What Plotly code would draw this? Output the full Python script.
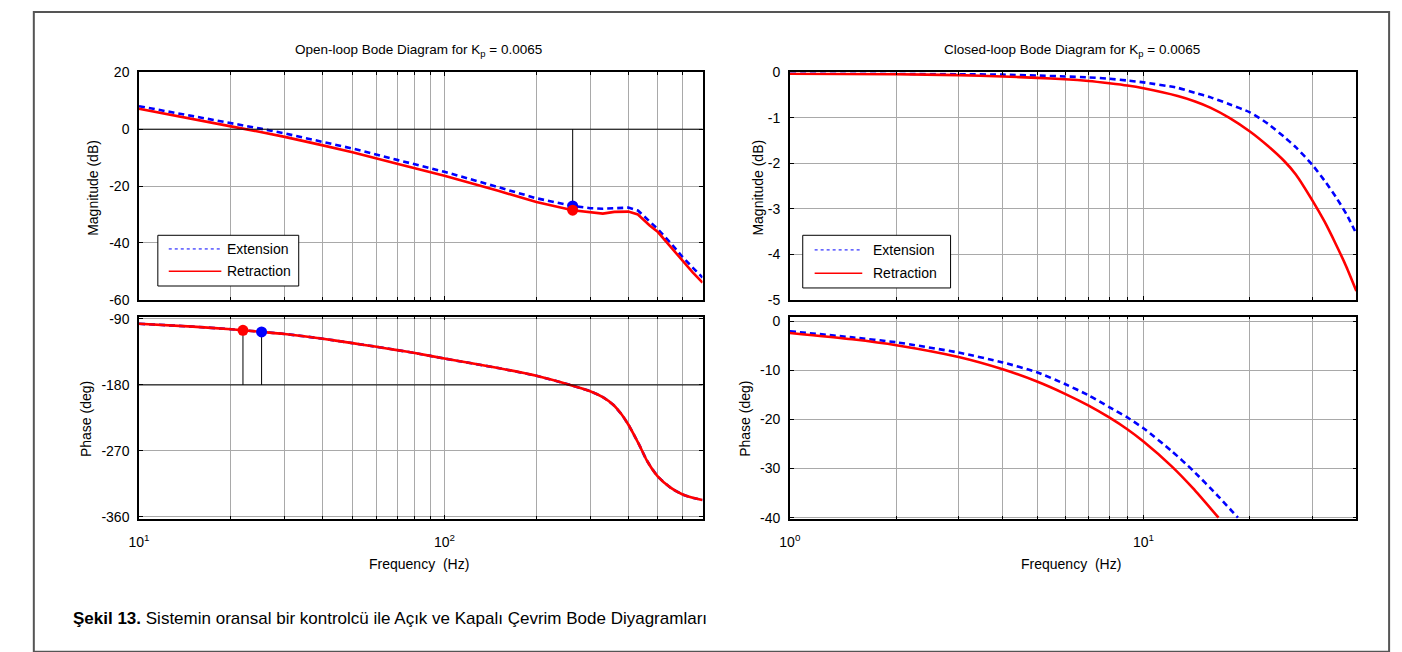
import math
import plotly.graph_objects as go

# ---------------- Open-loop data (Kp = 0.0065) ----------------
ol_mag_freq = [10, 15, 20, 25, 30, 40, 50, 70, 100, 150, 200, 263, 300, 330, 360,
               400, 430, 470, 500, 550, 600, 650, 700]
ol_mag_ext = [8.1, 4.7, 2.2, 0.2, -1.5, -4.4, -6.8, -10.8, -15.0, -20.4, -24.3, -27.0,
              -27.8, -28.0, -27.9, -27.6, -28.6, -32.7, -35.2, -40.0, -44.8, -48.7, -52.2]
ol_mag_ret = [7.2, 3.7, 1.0, -1.0, -2.7, -5.7, -8.1, -12.2, -16.4, -21.7, -25.6, -28.5,
              -29.2, -29.7, -29.1, -29.0, -30.0, -33.9, -36.2, -41.5, -46.2, -50.4, -54.0]

ol_ph_freq = [10, 15, 20, 25, 30, 40, 50, 60, 70, 80, 100, 150, 200, 258, 300, 330,
              357, 380, 400, 420, 436, 460, 500, 550, 600, 650, 700]
ol_ph_ext = [-96.6, -100.5, -104.0, -107.5, -110.5, -117.0, -123.0, -128.0, -132.5, -136.5,
             -144.0, -157.0, -167.5, -180.0, -188.5, -196.5, -207.0, -220.0, -234.0, -250.0,
             -263.0, -283.0, -305.0, -320.0, -329.0, -334.0, -337.0]
ol_ph_ret = [-96.6, -100.5, -104.0, -107.5, -110.5, -117.0, -123.0, -128.0, -132.5, -136.5,
             -144.0, -157.0, -167.5, -180.0, -188.5, -196.5, -207.0, -220.0, -234.0, -250.0,
             -263.0, -283.0, -305.0, -320.0, -329.0, -334.0, -337.0]

# stability margins: gain margin (phase crossover) and phase margin (gain crossover)
gm_freq = [263, 263]
gm_mag = [-27.0, -28.5]          # extension, retraction
pm_freq = [25.2, 21.9]           # extension, retraction
pm_phase = [-107.7, -105.5]

# ---------------- Closed-loop data (Kp = 0.0065) ----------------
cl_mag_freq = [1, 2, 3, 4, 5, 6, 7, 8, 9, 10, 12.5, 14, 15.5, 17.5, 20, 22.5, 25,
               27, 30, 32.5, 35, 37.5, 40]
cl_mag_ext = [-0.02, -0.03, -0.04, -0.05, -0.07, -0.09, -0.11, -0.14, -0.18, -0.22,
              -0.34, -0.45, -0.55, -0.70, -0.88, -1.13, -1.42, -1.65, -2.03, -2.38,
              -2.74, -3.12, -3.55]
cl_mag_ret = [-0.03, -0.04, -0.06, -0.09, -0.12, -0.15, -0.19, -0.24, -0.29, -0.35,
              -0.52, -0.64, -0.78, -1.00, -1.30, -1.62, -1.95, -2.25, -2.81, -3.28,
              -3.78, -4.28, -4.81]

cl_ph_freq_ext = [1, 1.5, 2, 3, 4, 5, 6, 7, 8, 9, 10, 12, 13.8, 16.3, 18.5]
cl_ph_ext = [-2.05, -3.3, -4.3, -6.4, -8.4, -10.4, -12.8, -15.1, -17.5, -19.6, -21.8,
             -26.4, -30.4, -35.7, -40.0]
cl_ph_freq_ret = [1, 1.5, 2, 3, 4, 5, 6, 7, 8, 9, 10, 12, 13.8, 16.3]
cl_ph_ret = [-2.4, -3.7, -4.9, -7.3, -9.8, -12.3, -14.8, -17.2, -19.6, -22.0, -24.5,
             -29.5, -34.0, -40.0]

# ---------------- Axis ticks ----------------
ol_xticks = [10, 100]
ol_xticktext = ["10<sup>1</sup>", "10<sup>2</sup>"]
ol_xminor = [20, 30, 40, 50, 60, 70, 80, 90, 200, 300, 400, 500, 600, 700]
cl_xticks = [1, 10]
cl_xticktext = ["10<sup>0</sup>", "10<sup>1</sup>"]
cl_xminor = [2, 3, 4, 5, 6, 7, 8, 9, 20, 30, 40]
ol_mag_ticks = [20, 0, -20, -40, -60]
ol_ph_ticks = [-90, -180, -270, -360]
cl_mag_ticks = [0, -1, -2, -3, -4, -5]
cl_ph_ticks = [0, -10, -20, -30, -40]

W, H = 1402, 652
FONT = "Arial, Liberation Sans, Helvetica, sans-serif"
BLUE = "#0000ff"
RED = "#ff0000"
GRID = "#a9a9a9"


def px(x):
    return x / W


def py(y):
    return 1 - y / H


fig = go.Figure()

dash_ext = "6px,4px"
ol_line_ext = dict(color=BLUE, width=2.6, dash=dash_ext)
ol_line_ret = dict(color=RED, width=2.6)
sm_line_ext = dict(color=BLUE, width=2.6, dash=dash_ext, shape="spline", smoothing=0.6)
sm_line_ret = dict(color=RED, width=2.6, shape="spline", smoothing=0.6)

# open-loop magnitude
fig.add_trace(go.Scatter(x=ol_mag_freq, y=ol_mag_ext, mode="lines", line=ol_line_ext,
                         xaxis="x", yaxis="y", showlegend=False))
fig.add_trace(go.Scatter(x=ol_mag_freq, y=ol_mag_ret, mode="lines", line=ol_line_ret,
                         xaxis="x", yaxis="y", showlegend=False))
# open-loop phase
fig.add_trace(go.Scatter(x=ol_ph_freq, y=ol_ph_ext, mode="lines", line=sm_line_ext,
                         xaxis="x2", yaxis="y2", showlegend=False))
fig.add_trace(go.Scatter(x=ol_ph_freq, y=ol_ph_ret, mode="lines", line=sm_line_ret,
                         xaxis="x2", yaxis="y2", showlegend=False))

# margin stems
fig.add_trace(go.Scatter(x=[gm_freq[0], gm_freq[0]], y=[0, gm_mag[0]], mode="lines",
                         line=dict(color="black", width=1), xaxis="x", yaxis="y",
                         showlegend=False))
for f, p in zip(pm_freq, pm_phase):
    fig.add_trace(go.Scatter(x=[f, f], y=[-180, p], mode="lines",
                             line=dict(color="black", width=1), xaxis="x2", yaxis="y2",
                             showlegend=False))

# margin markers (extension first, retraction on top)
for i, col in enumerate([BLUE, RED]):
    fig.add_trace(go.Scatter(x=[gm_freq[i]], y=[gm_mag[i]], mode="markers",
                             marker=dict(color=col, size=11), xaxis="x", yaxis="y",
                             showlegend=False))
    fig.add_trace(go.Scatter(x=[pm_freq[i]], y=[pm_phase[i]], mode="markers",
                             marker=dict(color=col, size=11), xaxis="x2", yaxis="y2",
                             showlegend=False))

# closed-loop magnitude
fig.add_trace(go.Scatter(x=cl_mag_freq, y=cl_mag_ext, mode="lines", line=sm_line_ext,
                         xaxis="x3", yaxis="y3", showlegend=False))
fig.add_trace(go.Scatter(x=cl_mag_freq, y=cl_mag_ret, mode="lines", line=sm_line_ret,
                         xaxis="x3", yaxis="y3", showlegend=False))
# closed-loop phase
fig.add_trace(go.Scatter(x=cl_ph_freq_ext, y=cl_ph_ext, mode="lines", line=sm_line_ext,
                         xaxis="x4", yaxis="y4", showlegend=False))
fig.add_trace(go.Scatter(x=cl_ph_freq_ret, y=cl_ph_ret, mode="lines", line=sm_line_ret,
                         xaxis="x4", yaxis="y4", showlegend=False))


def xaxis(domain, rng, ticks, text, minor, anchor, labels):
    return dict(
        type="log", domain=domain, range=rng, anchor=anchor,
        tickmode="array", tickvals=ticks, ticktext=text, showticklabels=labels,
        ticks="inside", ticklen=4, tickcolor="black", ticklabelstandoff=9,
        showline=True, linecolor="black", linewidth=1.5, mirror="ticks",
        showgrid=True, gridcolor=GRID, gridwidth=1, zeroline=False,
        minor=dict(tickmode="array", tickvals=minor, showgrid=True, gridcolor=GRID,
                   gridwidth=1, ticks="inside", ticklen=3, tickcolor="black"),
        tickfont=dict(family=FONT, size=14, color="black"),
    )


def yaxis(domain, rng, ticks, anchor):
    return dict(
        domain=domain, range=rng, anchor=anchor,
        tickmode="array", tickvals=ticks, ticktext=[str(t) for t in ticks],
        ticks="inside", ticklen=4, tickcolor="black",
        showline=True, linecolor="black", linewidth=1.5, mirror="ticks",
        showgrid=True, gridcolor=GRID, gridwidth=1, zeroline=False,
        tickfont=dict(family=FONT, size=14, color="black"), ticklabelstandoff=5,
    )


left_dom = [px(129), px(697)]
right_dom = [px(785), px(1356)]
top_dom = [py(299), py(66)]
bot_dom = [py(524), py(316.5)]

fig.update_layout(
    width=W, height=H,
    margin=dict(l=0, r=0, t=0, b=0),
    paper_bgcolor="white", plot_bgcolor="white",
    font=dict(family=FONT, color="black"),
    xaxis=xaxis(left_dom, [1, math.log10(700)], ol_xticks, ol_xticktext, ol_xminor, "y", False),
    yaxis=yaxis(top_dom, [-60, 20], ol_mag_ticks, "x"),
    xaxis2=xaxis(left_dom, [1, math.log10(700)], ol_xticks, ol_xticktext, ol_xminor, "y2", True),
    yaxis2=yaxis(bot_dom, [-363, -87], ol_ph_ticks, "x2"),
    xaxis3=xaxis(right_dom, [0, math.log10(40)], cl_xticks, cl_xticktext, cl_xminor, "y3", False),
    yaxis3=yaxis(top_dom, [-5, 0], cl_mag_ticks, "x3"),
    xaxis4=xaxis(right_dom, [0, math.log10(40)], cl_xticks, cl_xticktext, cl_xminor, "y4", True),
    yaxis4=yaxis(bot_dom, [-40.3, 0.9], cl_ph_ticks, "x4"),
)

shapes = [
    # outer frame
    dict(type="rect", xref="paper", yref="paper", x0=px(23), x1=px(1389), y0=py(660), y1=py(4),
         line=dict(color="#555555", width=2), fillcolor="rgba(0,0,0,0)", layer="below"),
    # 0 dB and -180 deg reference lines
    dict(type="line", xref="x domain", yref="y", x0=0, x1=1, y0=0, y1=0,
         line=dict(color="black", width=1)),
    dict(type="line", xref="x2 domain", yref="y2", x0=0, x1=1, y0=-180, y1=-180,
         line=dict(color="black", width=1)),
]

annotations = []


def legend_box(x0, x1, y0, y1, sx0, sx1, tx, ty1, ty2):
    shapes.append(dict(type="rect", xref="paper", yref="paper", x0=px(x0), x1=px(x1),
                       y0=py(y1), y1=py(y0), line=dict(color="black", width=1),
                       fillcolor="white"))
    shapes.append(dict(type="line", xref="paper", yref="paper", x0=px(sx0), x1=px(sx1),
                       y0=py(ty1), y1=py(ty1), line=dict(color=BLUE, width=1, dash="dot")))
    shapes.append(dict(type="line", xref="paper", yref="paper", x0=px(sx0), x1=px(sx1),
                       y0=py(ty2), y1=py(ty2), line=dict(color=RED, width=1.5)))
    for t, yy in (("Extension", ty1), ("Retraction", ty2)):
        annotations.append(dict(text=t, xref="paper", yref="paper", x=px(tx), y=py(yy),
                                xanchor="left", yanchor="middle", showarrow=False,
                                font=dict(family=FONT, size=14, color="black")))


legend_box(148, 290, 233, 285, 159, 212, 216, 247, 270)
legend_box(798, 947, 233, 287, 810, 858, 867, 248, 272)


def text(t, x, y, size=13, angle=0, xanchor="center"):
    annotations.append(dict(text=t, xref="paper", yref="paper", x=px(x), y=py(y),
                            xanchor=xanchor, yanchor="middle", showarrow=False,
                            textangle=angle, font=dict(family=FONT, size=size, color="black")))


text("Open-loop Bode Diagram for K<sub>p</sub> = 0.0065", 411, 44, size=13.5)
text("Closed-loop Bode Diagram for K<sub>p</sub> = 0.0065", 1069, 44, size=13.5)
text("Magnitude (dB)", 83, 184, size=14, angle=-90)
text("Phase (deg)", 75, 421, size=14, angle=-90)
text("Magnitude (dB)", 753, 184, size=14, angle=-90)
text("Phase (deg)", 739, 421, size=14, angle=-90)
text("Frequency  (Hz)", 411, 570, size=14)
text("Frequency  (Hz)", 1068, 570, size=14)
text("<b>Şekil 13.</b> Sistemin oransal bir kontrolcü ile Açık ve Kapalı Çevrim Bode Diyagramları",
     60, 626, size=17, xanchor="left")

fig.update_layout(shapes=shapes, annotations=annotations)

fig.write_html("out.html")
